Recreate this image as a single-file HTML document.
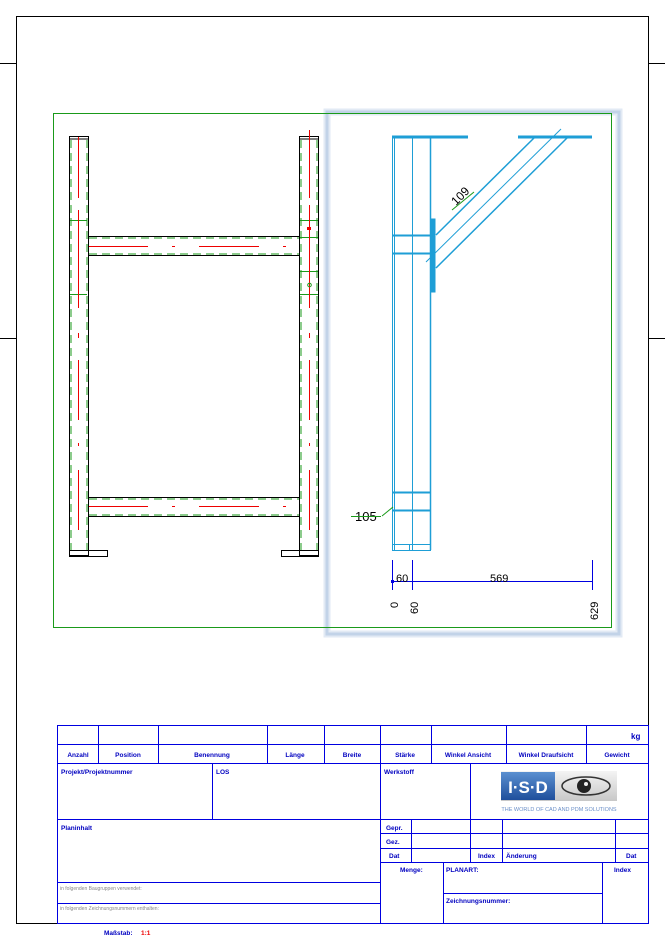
<!DOCTYPE html>
<html><head><meta charset="utf-8"><style>
html,body{margin:0;padding:0;background:#fff;}
svg{display:block;}
text{font-family:"Liberation Sans",sans-serif;}
</style></head><body>
<svg width="665" height="940" viewBox="0 0 665 940" xmlns="http://www.w3.org/2000/svg">
<defs>
<linearGradient id="lg" x1="0" y1="0" x2="0" y2="1"><stop offset="0" stop-color="#5a8fd0"/><stop offset="1" stop-color="#1f4f9c"/></linearGradient>
<linearGradient id="lg2" x1="0" y1="0" x2="0" y2="1"><stop offset="0" stop-color="#f4f4f4"/><stop offset="1" stop-color="#c8c8c8"/></linearGradient>
</defs>
<rect x="16.5" y="16.5" width="632" height="907" fill="none" stroke="#000" stroke-width="1"/>
<g stroke="#000" stroke-width="1">
<line x1="0" y1="63.5" x2="16" y2="63.5"/><line x1="0" y1="338.5" x2="16" y2="338.5"/>
<line x1="649" y1="63.5" x2="665" y2="63.5"/><line x1="649" y1="338.5" x2="665" y2="338.5"/>
</g>
<rect x="327" y="112" width="292" height="522" fill="none" stroke="#e2eaf4" stroke-width="7"/>
<rect x="327" y="112" width="292" height="522" fill="none" stroke="#c2d3e8" stroke-width="3"/>
<rect x="53.5" y="113.5" width="558" height="514" fill="none" stroke="#1a9a1a" stroke-width="1"/>

<g fill="none" stroke-width="1">
<g stroke="#000">
<rect x="69.5" y="136.5" width="19" height="419"/>
<line x1="69" y1="139" x2="89" y2="139"/>
<rect x="299.5" y="136.5" width="19" height="419"/>
<line x1="299" y1="139" x2="319" y2="139"/>
<line x1="89" y1="236.5" x2="299" y2="236.5"/><line x1="89" y1="255.5" x2="299" y2="255.5"/>
<line x1="89" y1="497.5" x2="299" y2="497.5"/><line x1="89" y1="516.5" x2="299" y2="516.5"/>
<rect x="69.5" y="550.5" width="38" height="6"/>
<rect x="281.5" y="550.5" width="37" height="6"/>
</g>
<g stroke="#1a9a1a" stroke-dasharray="8,5">
<line x1="71" y1="140" x2="71" y2="550"/><line x1="87" y1="140" x2="87" y2="550"/>
<line x1="301" y1="140" x2="301" y2="550"/><line x1="317" y1="140" x2="317" y2="550"/>
<line x1="89" y1="238" x2="299" y2="238"/><line x1="89" y1="254" x2="299" y2="254"/>
<line x1="89" y1="499" x2="299" y2="499"/><line x1="89" y1="515" x2="299" y2="515"/>
</g>
<g stroke="#1a9a1a">
<line x1="70" y1="220.5" x2="87" y2="220.5"/><line x1="70" y1="294.5" x2="87" y2="294.5"/>
<line x1="300" y1="220.5" x2="318" y2="220.5"/><line x1="300" y1="294.5" x2="318" y2="294.5"/>
<line x1="300" y1="237.5" x2="318" y2="237.5"/><line x1="300" y1="271.5" x2="318" y2="271.5"/>
</g>
<g stroke="#e00">
<line x1="78.5" y1="137" x2="78.5" y2="198"/><line x1="78.5" y1="210" x2="78.5" y2="308"/>
<line x1="78.5" y1="333" x2="78.5" y2="338"/><line x1="78.5" y1="360" x2="78.5" y2="420"/>
<line x1="78.5" y1="443" x2="78.5" y2="446"/><line x1="78.5" y1="470" x2="78.5" y2="530"/>
<line x1="309.5" y1="130" x2="309.5" y2="198"/><line x1="309.5" y1="205" x2="309.5" y2="308"/>
<line x1="309.5" y1="333" x2="309.5" y2="338"/><line x1="309.5" y1="360" x2="309.5" y2="420"/>
<line x1="309.5" y1="443" x2="309.5" y2="446"/><line x1="309.5" y1="470" x2="309.5" y2="530"/>
<line x1="89" y1="246.5" x2="148" y2="246.5"/><line x1="172" y1="246.5" x2="175" y2="246.5"/>
<line x1="199" y1="246.5" x2="259" y2="246.5"/><line x1="283" y1="246.5" x2="286" y2="246.5"/>
<line x1="89" y1="506.5" x2="148" y2="506.5"/><line x1="172" y1="506.5" x2="175" y2="506.5"/>
<line x1="199" y1="506.5" x2="259" y2="506.5"/><line x1="283" y1="506.5" x2="286" y2="506.5"/>
</g>
<rect x="307" y="227" width="4" height="3" fill="#e00" stroke="none"/>
<circle cx="309.5" cy="285" r="1.8" stroke="#1a9a1a"/>
</g>

<g fill="none" stroke="#1e9ed6" stroke-width="1">
<rect x="392.5" y="137.5" width="38" height="413"/>
<line x1="394.5" y1="137" x2="394.5" y2="550"/>
<line x1="412.5" y1="137" x2="412.5" y2="550"/>
<line x1="392" y1="544.5" x2="430" y2="544.5"/>
<line x1="409.5" y1="544" x2="409.5" y2="550"/>
<line x1="392" y1="137" x2="468" y2="137" stroke-width="3"/>
<line x1="518" y1="137" x2="592" y2="137" stroke-width="3"/>
<line x1="430.5" y1="137" x2="430.5" y2="550" stroke-width="1.5"/>
<line x1="392" y1="235.5" x2="430" y2="235.5" stroke-width="2"/>
<line x1="392" y1="253.5" x2="430" y2="253.5" stroke-width="2"/>
<line x1="392" y1="492.5" x2="430" y2="492.5" stroke-width="2"/>
<line x1="392" y1="510.5" x2="430" y2="510.5" stroke-width="2"/>
<rect x="431" y="219" width="4" height="73" fill="#1e9ed6"/>
<line x1="436" y1="235" x2="535" y2="137" stroke-width="1.5"/>
<line x1="436" y1="268" x2="568" y2="137" stroke-width="1.5"/>
<line x1="426" y1="262" x2="561" y2="129"/>
</g>
<g font-size="12" fill="#000">
<text transform="translate(456,206) rotate(-45)">109</text>
<text x="355" y="521" font-size="13">105</text>
</g>
<line x1="452" y1="210" x2="474" y2="192" stroke="#1a9a1a"/>
<line x1="351" y1="516.5" x2="381" y2="516.5" stroke="#1a9a1a"/>
<line x1="382" y1="516" x2="393" y2="507" stroke="#1a9a1a"/>
<g stroke="#0000e0" stroke-width="1">
<line x1="392" y1="581.5" x2="592" y2="581.5"/>
<line x1="392.5" y1="560" x2="392.5" y2="590"/>
<line x1="412.5" y1="560" x2="412.5" y2="590"/>
<line x1="592.5" y1="560" x2="592.5" y2="590"/>
</g>
<rect x="391" y="580" width="3" height="3" fill="#0000e0"/>
<g font-size="11" fill="#000">
<text x="396" y="582">60</text>
<text x="490" y="582">569</text>
<text transform="translate(398,608) rotate(-90)">0</text>
<text transform="translate(418,614) rotate(-90)">60</text>
<text transform="translate(598,620) rotate(-90)">629</text>
</g>

<g stroke="#0000e0" stroke-width="1" fill="none">
<rect x="57.5" y="725.5" width="591" height="198"/>
<line x1="57" y1="744.5" x2="649" y2="744.5"/>
<line x1="57" y1="763.5" x2="649" y2="763.5"/>
<line x1="57" y1="819.5" x2="649" y2="819.5"/>
<line x1="98.5" y1="725" x2="98.5" y2="763"/>
<line x1="158.5" y1="725" x2="158.5" y2="763"/>
<line x1="267.5" y1="725" x2="267.5" y2="763"/>
<line x1="324.5" y1="725" x2="324.5" y2="763"/>
<line x1="380.5" y1="725" x2="380.5" y2="923"/>
<line x1="431.5" y1="725" x2="431.5" y2="763"/>
<line x1="506.5" y1="725" x2="506.5" y2="763"/>
<line x1="586.5" y1="725" x2="586.5" y2="763"/>
<line x1="212.5" y1="763" x2="212.5" y2="819"/>
<line x1="470.5" y1="763" x2="470.5" y2="862"/>
<line x1="57" y1="882.5" x2="380" y2="882.5"/>
<line x1="57" y1="903.5" x2="380" y2="903.5"/>
<line x1="380" y1="833.5" x2="649" y2="833.5"/>
<line x1="380" y1="848.5" x2="649" y2="848.5"/>
<line x1="380" y1="862.5" x2="649" y2="862.5"/>
<line x1="411.5" y1="819" x2="411.5" y2="862"/>
<line x1="502.5" y1="819" x2="502.5" y2="862"/>
<line x1="615.5" y1="819" x2="615.5" y2="862"/>
<line x1="443.5" y1="862" x2="443.5" y2="923"/>
<line x1="602.5" y1="862" x2="602.5" y2="923"/>
<line x1="443" y1="893.5" x2="602" y2="893.5"/>
</g>
<g font-size="6.5" fill="#0000c0" font-weight="bold">
<text x="631" y="739" font-size="8">kg</text>
<text x="78" y="757" text-anchor="middle">Anzahl</text>
<text x="128" y="757" text-anchor="middle">Position</text>
<text x="212" y="757" text-anchor="middle">Benennung</text>
<text x="295" y="757" text-anchor="middle">Länge</text>
<text x="352" y="757" text-anchor="middle">Breite</text>
<text x="405" y="757" text-anchor="middle">Stärke</text>
<text x="468" y="757" text-anchor="middle">Winkel Ansicht</text>
<text x="546" y="757" text-anchor="middle">Winkel Draufsicht</text>
<text x="617" y="757" text-anchor="middle">Gewicht</text>
<text x="61" y="774">Projekt/Projektnummer</text>
<text x="216" y="774">LOS</text>
<text x="384" y="774">Werkstoff</text>
<text x="61" y="830">Planinhalt</text>
<text x="386" y="830">Gepr.</text>
<text x="386" y="844">Gez.</text>
<text x="389" y="858">Dat</text>
<text x="478" y="858">Index</text>
<text x="506" y="858">Änderung</text>
<text x="626" y="858">Dat</text>
<text x="400" y="872">Menge:</text>
<text x="446" y="872">PLANART:</text>
<text x="614" y="872">Index</text>
<text x="446" y="903">Zeichnungsnummer:</text>
<text x="104" y="935">Maßstab:</text>
</g>
<text x="141" y="935" font-size="6.5" fill="#e00" font-weight="bold">1:1</text>
<g font-size="5" fill="#888">
<text x="60" y="890">in folgenden Baugruppen verwendet:</text>
<text x="60" y="910">in folgenden Zeichnungsnummern enthalten:</text>
</g>
<rect x="501" y="771" width="116" height="30" fill="url(#lg2)"/>
<rect x="501" y="772" width="54" height="28" fill="url(#lg)"/>
<text x="528" y="793" font-size="17" fill="#fff" text-anchor="middle" font-weight="bold">I·S·D</text>
<ellipse cx="586" cy="786" rx="24" ry="9" fill="none" stroke="#333" stroke-width="1.5"/>
<circle cx="584" cy="786" r="7" fill="#222"/>
<circle cx="586" cy="784" r="2" fill="#eee"/>
<text x="559" y="811" font-size="5.5" fill="#6a8fc8" text-anchor="middle">THE WORLD OF CAD AND PDM SOLUTIONS</text>
</svg>
</body></html>
